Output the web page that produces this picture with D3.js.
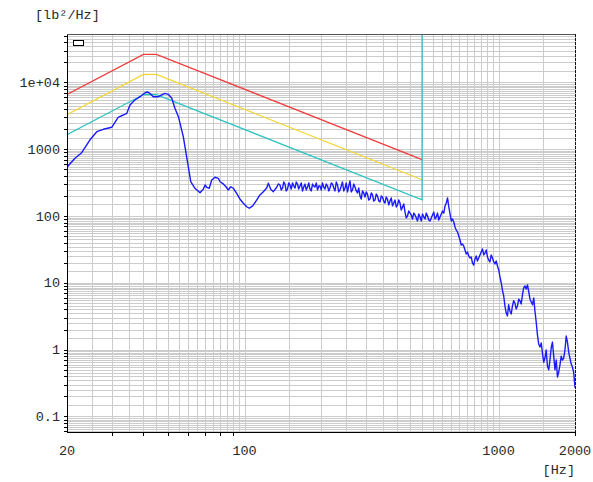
<!DOCTYPE html>
<html>
<head>
<meta charset="utf-8">
<script src="https://cdn.jsdelivr.net/npm/d3@7"></script>
<style>
  html, body { margin: 0; padding: 0; background: #fff; }
  svg { display: block; }
  text { font-family: "Liberation Mono", "DejaVu Sans Mono", monospace; font-size: 13.5px; fill: #2a2a2a; }
</style>
</head>
<body>
<svg id="chart" width="593" height="482"></svg>
<script>
// Axis extents and labels
const xDomain = [20, 2000];
const yDomain = [0.0586, 53200];
const xTickValues = [20, 100, 1000, 2000];
const xTickLabels = ["20", "100", "1000", "2000"];
const yTickValues = [0.1, 1, 10, 100, 1000, 10000];
const yTickLabels = ["0.1", "1", "10", "100", "1000", "1e+04"];
const gridSteps = [1, 1.5, 2, 2.5, 3, 3.5, 4, 4.5, 5, 5.5, 6, 6.5, 7, 7.5, 8, 8.5, 9, 9.5];
const yUnit = "[lb²/Hz]";
const xUnit = "[Hz]";

// Reference profile and its tolerance lines
const profileFreq = [20, 40, 45, 500];
const alarmHigh = [6600, 26400, 26400, 700];
const alarmMid = [3300, 13200, 13200, 350];
const refFreq = [20, 40, 45, 500, 500];
const refLevel = [1650, 6600, 6600, 175, 53200];

// Measured PSD, main samples
const psdFreq = [
  20, 21.5, 22.85, 24.6, 26.2, 27.8, 30.0, 31.8, 33.3, 34.4, 35.4, 37.0, 38.8, 40.6, 41.4, 42.4,
  43.7, 45.8, 47.2, 48.6, 50.1, 51.7, 53.2, 54.9, 57.4, 59.6, 61.4, 63.8, 66.8, 68.8, 69.9, 71.0,
  72.6, 74.3, 76.5, 78.8, 80.1, 82.5, 84.5, 86.3, 88.2, 90.3, 93.1, 96.0, 98.9, 102.0, 104.4, 107.7,
  111.6, 115.0, 118.6, 122.2, 124.1, 126.8, 129.8, 133.9, 135.8,
  137.9, 141.1, 144.3, 147.6, 151.0, 154.5, 158.0, 161.6, 165.3, 169.1, 173.0, 177.0, 181.0, 185.2,
  189.4, 193.8, 198.2, 202.7, 207.4, 212.2, 217.0, 222.0, 227.1, 232.3, 237.6, 243.0, 248.6, 254.3,
  260.1, 266.1, 272.2, 278.4, 284.8, 291.3, 298.0, 304.8, 311.8, 319.0, 326.3, 333.8, 341.4, 349.2,
  357.2, 365.4, 373.8, 382.4, 391.2, 400.2, 409.3, 418.7, 428.3, 438.1, 448.2, 458.5, 469.0, 479.8,
  490.8, 502.0, 513.5, 525.3, 537.4, 549.7, 562.3, 575.2, 588.4, 601.9, 615.7, 629.8, 644.3,
  658.9, 673.9, 689.3, 705.2, 721.1, 737.6, 754.6, 771.8, 789.5, 807.6, 826.0, 845.1, 864.4, 884.3,
  904.5, 925.2, 946.5, 968.0, 990.4, 1013, 1036, 1060, 1084, 1109, 1134, 1160, 1187, 1214, 1242,
  1271, 1300, 1330, 1360, 1391, 1423, 1456, 1489, 1523, 1558, 1594, 1630, 1668, 1706, 1745, 1785,
  1826, 1868, 1910, 1954, 2000
];
const psdValue = [
  540, 733, 889, 1377, 1834, 1992, 2134, 3013, 3260, 3459, 4603, 5470, 6124, 7031, 7211, 6887,
  6124, 6124, 6500, 6887, 6653, 5794, 4108, 3076, 1545, 656, 327, 261, 224, 252, 292, 270,
  261, 347, 381, 368, 327, 303, 275, 246, 275, 261, 219, 179, 156, 138, 131, 142,
  174, 207, 232, 264, 310, 252, 232, 270, 303,
  292, 263, 302, 254, 292, 313, 263, 302, 282, 238, 302, 273, 254, 302,
  273, 246, 282, 313, 254, 282, 263, 302, 238, 292, 246, 324, 263, 230,
  335, 246, 273, 222, 200, 238, 193, 214, 180, 207, 174, 200, 163, 193,
  157, 180, 168, 142, 174, 147, 157, 137, 115, 100.3, 111, 90.5, 104, 84.5,
  97, 107.5, 90.5, 100.3, 84.5, 104, 90.5, 111, 97, 119, 142, 187, 107.5,
  90.5, 68.7, 57.8, 43.9, 38.2, 31.1, 29.0, 23.6, 19.9, 22.8, 21.3, 26.2, 32.2, 28.0,
  24.4, 20.6, 23.6, 19.2, 17.9, 12.3, 7.8, 4.5, 3.2, 3.8, 4.5, 5.0, 4.5, 5.4, 6.6,
  9.0, 9.3, 5.7, 4.7, 3.8, 1.66, 1.10, 0.89, 0.75, 0.57, 0.70, 1.30, 0.50, 0.39, 0.59, 0.70,
  0.99, 1.30, 0.75, 0.55, 0.27
];

// Measured PSD, in-between samples of the noisy upper band
const psdFreqFine = [
  139.5, 142.7, 145.9, 149.3, 152.7, 156.3, 159.8, 163.4, 167.2, 171.0, 175.0, 179.0, 183.1, 187.3,
  191.6, 196.0, 200.5, 205.0, 209.8, 214.6, 219.5, 224.5, 229.7, 234.9, 240.3, 245.8, 251.4, 257.2,
  263.1, 269.1, 275.3, 281.6, 288.0, 294.6, 301.4, 308.3, 315.4, 322.6, 330.0, 337.6, 345.3, 353.2,
  361.3, 369.6, 378.1, 386.8, 395.7, 404.8, 414.0, 423.5, 433.2, 443.1, 453.3, 463.7, 474.3, 485.3,
  496.4, 507.7, 519.4, 531.3, 543.5, 556.0, 568.7, 581.8, 595.1, 608.8, 622.7, 637.0, 651.6,
  666.4, 681.6, 697.2, 713.2, 729.3, 746.0, 763.2, 780.6, 798.5, 816.8, 835.4, 854.7, 874.3, 894.4,
  914.8, 935.7, 957.3, 979.0, 1001.7, 1025, 1048, 1072, 1096, 1122, 1147, 1173, 1201, 1228, 1256,
  1285, 1315, 1345, 1376, 1407, 1439, 1473, 1506, 1540, 1576, 1612, 1649, 1687, 1725, 1765, 1805,
  1847, 1889, 1932, 1976
];
const psdValueFine = [
  246, 324, 238, 313, 254, 282, 324, 254, 313, 273, 246, 313, 238, 282,
  313, 282, 246, 273, 302, 238, 313, 263, 324, 230, 282, 238, 313, 282,
  230, 302, 238, 263, 180, 222, 230, 174, 222, 168, 214, 168, 200, 168,
  193, 147, 187, 157, 137, 174, 123, 152, 94, 119, 104, 111, 94, 107.5,
  84.5, 97, 111, 87.4, 94, 115, 97, 87.4, 107.5, 111, 157, 137, 84.5,
  81.6, 61.9, 50.4, 36.9, 35.7, 27.1, 25.3, 24.4, 18.5, 25.3, 23.6, 29.0, 26.2, 31.1,
  22.0, 26.2, 20.6, 21.3, 15.6, 9.97, 6.37, 3.54, 4.7, 3.42, 5.4, 4.07, 5.7, 4.83, 8.39,
  8.1, 7.31, 5.18, 5.94, 2.6, 1.22, 1.26, 0.65, 0.99, 0.50, 1.06, 0.80, 0.70, 0.46, 0.80, 0.75,
  1.60, 0.92, 0.61, 0.46
];

const svg = d3.select("#chart");
const plot = { left: 67, right: 575, top: 34, bottom: 432 };

const x = d3.scaleLog().domain(xDomain).range([plot.left, plot.right]);
const y = d3.scaleLog().domain(yDomain).range([plot.bottom, plot.top]);

// Grid positions at half-unit steps inside each decade
function gridValues(domain) {
  const out = [];
  for (let e = -3; e <= 6; e++) {
    const d = Math.pow(10, e);
    gridSteps.forEach(k => {
      const v = k * d;
      if (v >= domain[0] * 0.9999 && v <= domain[1] * 1.0001) out.push(v);
    });
  }
  return out;
}
function intValues(domain) {
  const out = [];
  for (let e = -3; e <= 6; e++) {
    const d = Math.pow(10, e);
    for (let k = 1; k <= 9; k++) {
      const v = k * d;
      if (v >= domain[0] && v <= domain[1]) out.push(v);
    }
  }
  return out;
}

const grid = svg.append("g").attr("shape-rendering", "crispEdges");
grid.selectAll("line.vg").data(gridValues(xDomain)).join("line")
  .attr("x1", d => Math.round(x(d)) + 0.5).attr("x2", d => Math.round(x(d)) + 0.5)
  .attr("y1", plot.top).attr("y2", plot.bottom)
  .attr("stroke", "#cccccc").attr("stroke-width", 1);
grid.selectAll("line.hg").data(gridValues(yDomain)).join("line")
  .attr("y1", d => Math.round(y(d)) + 0.5).attr("y2", d => Math.round(y(d)) + 0.5)
  .attr("x1", plot.left).attr("x2", plot.right)
  .attr("stroke", "#cccccc").attr("stroke-width", 1);

// Clip region for the curves
svg.append("clipPath").attr("id", "plotClip").append("rect")
  .attr("x", plot.left).attr("y", plot.top)
  .attr("width", plot.right - plot.left).attr("height", plot.bottom - plot.top);

const line = d3.line().x(d => x(d[0])).y(d => y(d[1]));
const curves = svg.append("g").attr("clip-path", "url(#plotClip)");

curves.append("path").datum(profileFreq.map((f, i) => [f, alarmHigh[i]]))
  .attr("d", line).attr("fill", "none").attr("stroke", "#f23c3c").attr("stroke-width", 1.3);
curves.append("path").datum(profileFreq.map((f, i) => [f, alarmMid[i]]))
  .attr("d", line).attr("fill", "none").attr("stroke", "#f5d630").attr("stroke-width", 1.3);
curves.append("path").datum(refFreq.map((f, i) => [f, refLevel[i]]))
  .attr("d", line).attr("fill", "none").attr("stroke", "#2cc3c3").attr("stroke-width", 1.3);

const psd = psdFreq.map((f, i) => [f, psdValue[i]])
  .concat(psdFreqFine.map((f, i) => [f, psdValueFine[i]]))
  .sort((a, b) => a[0] - b[0]);
curves.append("path").datum(psd)
  .attr("d", line).attr("fill", "none").attr("stroke", "#1a1aff").attr("stroke-width", 1.4)
  .attr("stroke-linejoin", "round");

// Frame: left and bottom axes, top border, dashed right border
const frame = svg.append("g").attr("shape-rendering", "crispEdges");
frame.append("line").attr("x1", plot.left + 0.5).attr("x2", plot.left + 0.5)
  .attr("y1", plot.top).attr("y2", plot.bottom + 1).attr("stroke", "#000");
frame.append("line").attr("x1", plot.left).attr("x2", plot.right + 1)
  .attr("y1", plot.bottom + 0.5).attr("y2", plot.bottom + 0.5).attr("stroke", "#000");
frame.append("line").attr("x1", plot.left).attr("x2", plot.right)
  .attr("y1", plot.top + 0.5).attr("y2", plot.top + 0.5).attr("stroke", "#555");
frame.append("line").attr("x1", plot.right + 0.5).attr("x2", plot.right + 0.5)
  .attr("y1", plot.top).attr("y2", plot.bottom).attr("stroke", "#111")
  .attr("stroke-dasharray", "3,1");

// Minor ticks on the left axis
frame.selectAll("line.yt").data(intValues(yDomain)).join("line")
  .attr("x1", plot.left - 3).attr("x2", plot.left)
  .attr("y1", d => Math.round(y(d)) + 0.5).attr("y2", d => Math.round(y(d)) + 0.5)
  .attr("stroke", "#000");
// Ticks below the bottom axis in the first decade
frame.selectAll("line.xt").data(intValues([30, 90]).concat([2000])).join("line")
  .attr("x1", d => Math.round(x(d)) + 0.5).attr("x2", d => Math.round(x(d)) + 0.5)
  .attr("y1", plot.bottom).attr("y2", plot.bottom + 4)
  .attr("stroke", "#000");

// Tick labels
svg.selectAll("text.yl").data(yTickValues).join("text")
  .attr("x", 60).attr("y", d => y(d) + 4.5)
  .attr("text-anchor", "end").text((d, i) => yTickLabels[i]);
svg.selectAll("text.xl").data(xTickValues).join("text")
  .attr("x", d => x(d)).attr("y", 455)
  .attr("text-anchor", "middle").text((d, i) => xTickLabels[i]);

svg.append("text").attr("x", 35).attr("y", 19).text(yUnit);
svg.append("text").attr("x", 575).attr("y", 474).attr("text-anchor", "end").text(xUnit);

// Empty legend box
svg.append("rect").attr("x", 73.5).attr("y", 40.5).attr("width", 10).attr("height", 5)
  .attr("fill", "#fff").attr("stroke", "#000").attr("shape-rendering", "crispEdges");
</script>
</body>
</html>
